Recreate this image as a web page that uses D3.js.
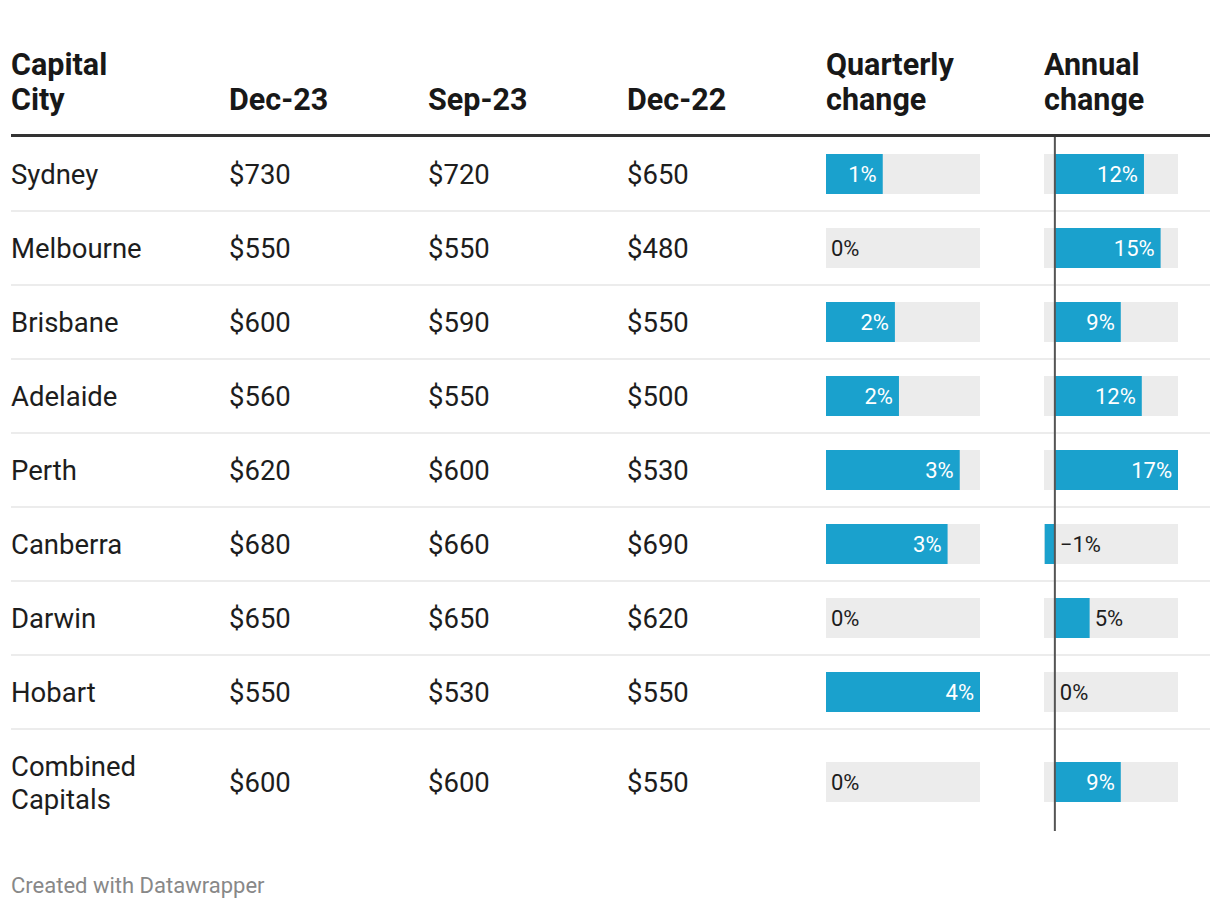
<!DOCTYPE html>
<html>
<head>
<meta charset="utf-8">
<script src="https://cdn.jsdelivr.net/npm/d3@7"></script>
<style>
  html, body { margin: 0; padding: 0; background: #fff; }
  svg { display: block; font-family: Roboto, "Noto Sans", sans-serif; }
</style>
</head>
<body>
<svg id="chart" width="1220" height="910"></svg>
<script>
const headers = [["Capital", "City"], ["Dec-23"], ["Sep-23"], ["Dec-22"], ["Quarterly", "change"], ["Annual", "change"]];
const cities = [["Sydney"], ["Melbourne"], ["Brisbane"], ["Adelaide"], ["Perth"], ["Canberra"], ["Darwin"], ["Hobart"], ["Combined", "Capitals"]];
const dec23 = [730, 550, 600, 560, 620, 680, 650, 550, 600];
const sep23 = [720, 550, 590, 550, 600, 660, 650, 530, 600];
const dec22 = [650, 480, 550, 500, 530, 690, 620, 550, 550];
const quarterly = [1.4, 0, 1.7, 1.8, 3.3, 3.0, 0, 3.8, 0];
const quarterlyLabels = ["1%", "0%", "2%", "2%", "3%", "3%", "0%", "4%", "0%"];
const annual = [12.3, 14.6, 9.1, 12.0, 17.0, -1.4, 4.8, 0, 9.1];
const annualLabels = ["12%", "15%", "9%", "12%", "17%", "\u22121%", "5%", "0%", "9%"];

const svg = d3.select("#chart");
const textColor = "#1d1d1d";
const barColor = "#1aa1cd";
const bgColor = "#ececec";

const left = 11, right = 1210;
const colX = [11, 229, 428, 627, 826, 1044];

// Header
headers.forEach((lines, i) => {
  const n = lines.length;
  lines.forEach((l, j) => {
    svg.append("text")
      .attr("x", colX[i])
      .attr("y", 110 - (n - 1 - j) * 35)
      .attr("font-size", 30.5)
      .attr("font-weight", 700)
      .attr("fill", "#181818")
      .text(l);
  });
});
svg.append("line").attr("x1", left).attr("x2", right).attr("y1", 135.5).attr("y2", 135.5)
  .attr("stroke", "#333").attr("stroke-width", 3);

// Row geometry derived from number of lines
const baseH = 74, extraPerLine = 32;
const rowTops = [];
let yy = 137;
cities.forEach(c => { rowTops.push(yy); yy += baseH + (c.length - 1) * extraPerLine; });
const tableBottom = yy;
const rowH = cities.map(c => baseH + (c.length - 1) * extraPerLine);
const rowCenter = i => rowTops[i] + rowH[i] / 2;

// separators
cities.forEach((c, i) => {
  if (i < cities.length - 1) {
    svg.append("line").attr("x1", left).attr("x2", right)
      .attr("y1", rowTops[i] + rowH[i]).attr("y2", rowTops[i] + rowH[i])
      .attr("stroke", "#ececec").attr("stroke-width", 2);
  }
});

const fmt = v => "$" + d3.format("d")(v);
const bodySize = 27.5;

cities.forEach((lines, i) => {
  const cy = rowCenter(i);
  const n = lines.length;
  lines.forEach((l, j) => {
    svg.append("text").attr("x", colX[0]).attr("y", cy + (j - (n - 1) / 2) * 33)
      .attr("dy", "0.38em").attr("font-size", bodySize).attr("fill", textColor).text(l);
  });
  [dec23, sep23, dec22].forEach((arr, k) => {
    svg.append("text").attr("x", colX[k + 1]).attr("y", cy).attr("dy", "0.38em")
      .attr("font-size", bodySize).attr("fill", textColor).text(fmt(arr[i]));
  });
});

// Bars
const xq = d3.scaleLinear().domain([0, d3.max(quarterly)]).range([826, 980]);
const xa = d3.scaleLinear().domain([-1.5, d3.max(annual)]).range([1044, 1178]);
const barH = 40, labelSize = 22, minInside = 45;

function drawBars(values, labels, x) {
  const g = svg.append("g");
  values.forEach((v, i) => {
    const cy = rowCenter(i);
    const x0 = x.range()[0], x1 = x.range()[1];
    g.append("rect").attr("x", x0).attr("y", cy - barH / 2).attr("width", x1 - x0).attr("height", barH).attr("fill", bgColor);
    const z = x(0);
    const bx = Math.min(x(v), z), bw = Math.abs(x(v) - z);
    if (bw > 0) g.append("rect").attr("x", bx).attr("y", cy - barH / 2).attr("width", bw).attr("height", barH).attr("fill", barColor);
    const inside = v > 0 && bw >= minInside;
    const t = g.append("text").attr("y", cy).attr("dy", "0.36em").attr("font-size", labelSize).text(labels[i]);
    if (inside) t.attr("x", x(v) - 6).attr("text-anchor", "end").attr("fill", "#fff");
    else t.attr("x", Math.max(x(v), z) + 5).attr("fill", textColor);
  });
}
drawBars(quarterly, quarterlyLabels, xq);
drawBars(annual, annualLabels, xa);

// Annual zero axis
svg.append("line").attr("x1", xa(0)).attr("x2", xa(0)).attr("y1", 137).attr("y2", tableBottom - 4)
  .attr("stroke", "#555").attr("stroke-width", 2);

// Footer
svg.append("text").attr("x", 11).attr("y", 893).attr("font-size", 22).attr("fill", "#888").text("Created with Datawrapper");
</script>
</body>
</html>
